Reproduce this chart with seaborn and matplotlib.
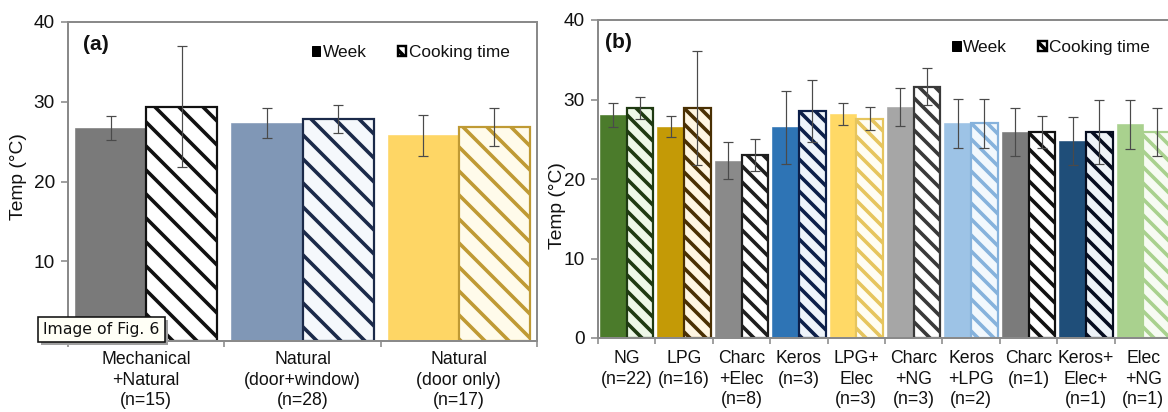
import numpy as np
import pandas as pd
import matplotlib
matplotlib.use("Agg")
import matplotlib.pyplot as plt
import seaborn as sns
from matplotlib.patches import Patch, Rectangle

# ---------------- data ----------------
vent_labels = ["Mechanical\n+Natural\n(n=15)", "Natural\n(door+window)\n(n=28)", "Natural\n(door only)\n(n=17)"]
vent_week = [26.7, 27.3, 25.8]
vent_week_err = [1.5, 1.9, 2.6]
vent_cook = [29.4, 27.8, 26.8]
vent_cook_err = [7.6, 1.75, 2.4]
vent_yticks = [10, 20, 30, 40]

fuel_labels = ["NG\n(n=22)", "LPG\n(n=16)", "Charc\n+Elec\n(n=8)", "Keros\n(n=3)", "LPG+\nElec\n(n=3)",
               "Charc\n+NG\n(n=3)", "Keros\n+LPG\n(n=2)", "Charc\n(n=1)", "Keros+\nElec+\n(n=1)", "Elec\n+NG\n(n=1)"]
fuel_week = [28.0, 26.6, 22.3, 26.5, 28.2, 29.1, 27.0, 25.9, 24.8, 26.9]
fuel_week_err = [1.5, 1.3, 2.3, 4.6, 1.4, 2.4, 3.1, 3.0, 3.0, 3.1]
fuel_cook = [28.9, 28.9, 23.0, 28.6, 27.6, 31.6, 27.0, 25.9, 25.9, 25.95]
fuel_cook_err = [1.4, 7.2, 2.0, 3.9, 1.45, 2.3, 3.1, 2.0, 4.0, 3.0]
fuel_yticks = [0, 10, 20, 30, 40]

periods = ["Week", "Cooking time"]

# ---------------- styles ----------------
vent_week_colors = ["#7a7a7a", "#8097b6", "#fed665"]
vent_cook_faces = ["#ffffff", "#f5f8fc", "#fffbea"]
vent_cook_edges = ["#111111", "#1b2a4a", "#bf9a34"]

fuel_week_colors = ["#4b7b2b", "#c49a06", "#8a8a8a", "#2e74b5", "#ffd966",
                    "#a6a6a6", "#9dc3e6", "#7b7b7b", "#1f4e79", "#a9d18e"]
fuel_cook_faces = ["#eef8e8", "#fff6e2", "#ffffff", "#eef4fb", "#fffdf2",
                   "#ffffff", "#f2f8fd", "#ffffff", "#eef3f8", "#f7fbf3"]
fuel_cook_edges = ["#1f3a12", "#4a3003", "#1e1e1e", "#0c1f4a", "#e6c55e",
                   "#3a3a3a", "#86b2dc", "#111111", "#060d20", "#a9d18e"]

sns.set_theme(style="white")
plt.rcParams["font.family"] = ["Liberation Sans", "DejaVu Sans"]
plt.rcParams["hatch.linewidth"] = 1.8

DPI = 144
fig = plt.figure(figsize=(1168 / DPI, 412 / DPI), dpi=DPI)
fig.patch.set_facecolor("white")

SPINE = "#8a8a8a"


def draw_panel(ax, labels, week, week_err, cook, cook_err, yticks, wcols, cfaces, cedges,
               hatch, width, tag, legend_x, legend_y, ylab_xy, xpad):
    n = len(labels)
    df = pd.DataFrame({
        "cat": labels * 2,
        "period": [periods[0]] * n + [periods[1]] * n,
        "temp": list(week) + list(cook),
    })
    sns.barplot(data=df, x="cat", y="temp", hue="period", hue_order=periods, order=labels,
                width=width, gap=0, errorbar=None, legend=False, saturation=1, ax=ax)
    bars = sorted([p for p in ax.patches if isinstance(p, Rectangle) and p.get_height() > 0],
                  key=lambda p: p.get_x())
    xs, ys, es = [], [], []
    for i in range(n):
        wb, cb = bars[2 * i], bars[2 * i + 1]
        wb.set_facecolor(wcols[i])
        wb.set_edgecolor(wcols[i])
        wb.set_linewidth(0.3)
        cb.set_facecolor(cfaces[i])
        cb.set_edgecolor(cedges[i])
        cb.set_linewidth(1.1)
        cb.set_hatch(hatch)
        for b, e in ((wb, week_err[i]), (cb, cook_err[i])):
            xs.append(b.get_x() + b.get_width() / 2)
            ys.append(b.get_height())
            es.append(e)
    ax.errorbar(xs, ys, yerr=es, fmt="none", ecolor="#4a4a4a", elinewidth=0.6,
                capsize=2.6, capthick=0.6, zorder=5)

    ax.set_xlim(-0.5, n - 0.5)
    ax.set_ylim(0, 40)
    ax.set_yticks(yticks)
    ax.set_xticks(range(n))
    ax.set_xticklabels(labels)
    ax.set_xticks(np.arange(-0.5, n, 1), minor=True)
    ax.set_xlabel("")
    ax.set_ylabel("Temp (°C)", fontsize=9.6, color="#111111")
    ax.yaxis.set_label_coords(*ylab_xy)
    for s in ax.spines.values():
        s.set_visible(True)
        s.set_color(SPINE)
        s.set_linewidth(1.0)
    ax.tick_params(axis="y", which="major", left=True, direction="out", length=3.5,
                   width=0.8, color=SPINE, labelsize=9.5, labelcolor="#111111", pad=3)
    ax.tick_params(axis="x", which="major", bottom=True, length=0, pad=xpad,
                   labelsize=8.8, labelcolor="#111111")
    ax.tick_params(axis="x", which="minor", bottom=True, direction="out", length=3,
                   width=0.8, color=SPINE)
    for t in ax.get_xticklabels():
        t.set_linespacing(1.28)

    ax.text(tag[1], 0.928, tag[0], transform=ax.transAxes, ha="left", va="center",
            fontsize=10.5, fontweight="bold", color="#111111")

    handles = [Patch(facecolor="black", edgecolor="black", linewidth=0.5),
               Patch(facecolor="white", edgecolor="black", linewidth=1.2, hatch="\\\\\\\\")]
    ax.legend(handles, periods, loc="center left", bbox_to_anchor=(legend_x, legend_y),
              ncol=2, frameon=False, fontsize=8.6, handlelength=0.5, handleheight=0.5,
              handletextpad=0.15, columnspacing=1.8, borderpad=0, borderaxespad=0,
              labelcolor="#111111")


ax_a = fig.add_axes([68 / 1168, (412 - 341) / 412, 469 / 1168, 319 / 412])
ax_b = fig.add_axes([598 / 1168, (412 - 338) / 412, 574 / 1168, 318 / 412])

draw_panel(ax_a, vent_labels, vent_week, vent_week_err, vent_cook, vent_cook_err, vent_yticks,
           vent_week_colors, vent_cook_faces, vent_cook_edges, "\\\\", 0.91,
           ("(a)", 0.032), 0.52, 0.903, (-0.087, 0.514), 5.0)
draw_panel(ax_b, fuel_labels, fuel_week, fuel_week_err, fuel_cook, fuel_cook_err, fuel_yticks,
           fuel_week_colors, fuel_cook_faces, fuel_cook_edges, "\\\\\\", 0.93,
           ("(b)", 0.012), 0.617, 0.912, (-0.056, 0.415), 6.0)

# overlay caption box with a drop shadow
W, H = 1168, 412
shadow = Rectangle((41 / W, (412 - 345) / H), 127 / W, 25 / H, transform=fig.transFigure,
                   facecolor="#a0a0a0", edgecolor="none", zorder=4)
fig.patches.append(shadow)
box = Rectangle((38 / W, (412 - 342) / H), 127 / W, 25 / H, transform=fig.transFigure,
                facecolor="#fffff6", edgecolor="#111111", linewidth=0.8, zorder=5)
fig.patches.append(box)
fig.text(101.5 / W, (412 - 329.5) / H, "Image of Fig. 6", fontsize=7.9, family="DejaVu Sans",
         color="#111111", ha="center", va="center", zorder=6)

fig.savefig("out.png", dpi=DPI)
